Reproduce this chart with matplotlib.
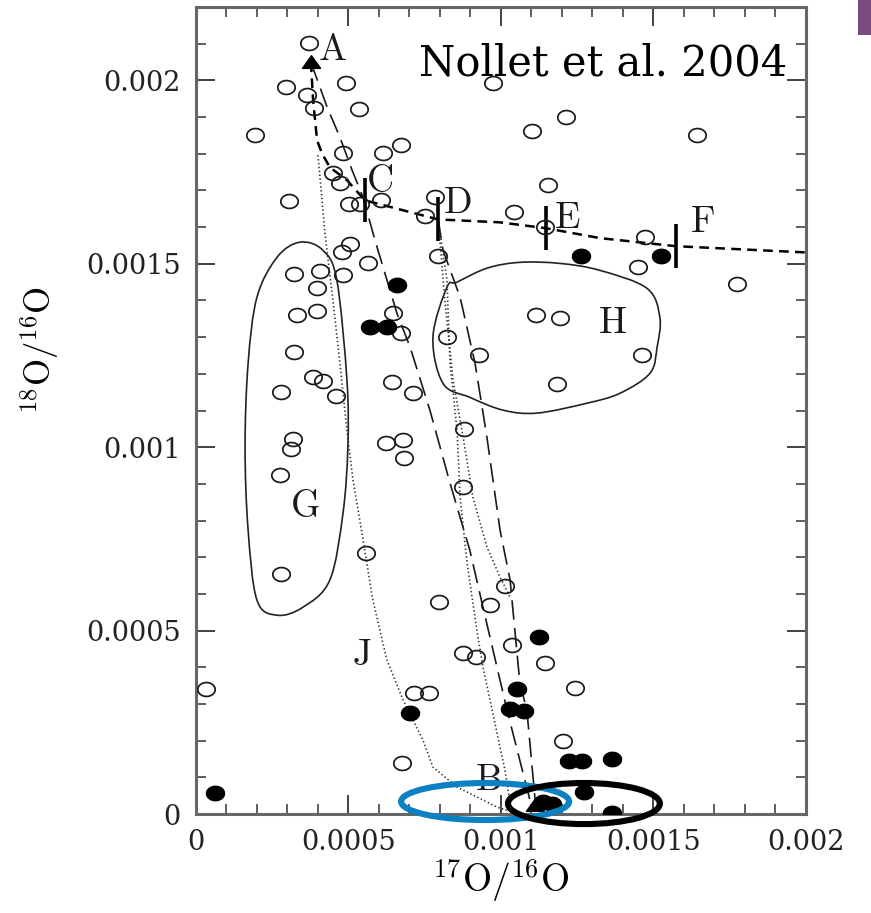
import numpy as np
import matplotlib
matplotlib.use("Agg")
import matplotlib.pyplot as plt
from matplotlib.path import Path
from matplotlib.patches import PathPatch, Ellipse, Rectangle
from matplotlib.ticker import MultipleLocator, FixedLocator

plt.rcParams["mathtext.fontset"] = "cm"
plt.rcParams["lines.scale_dashes"] = False

# ---- presolar oxide grains: open symbols ----
open_x = [0.000371, 0.000295, 0.000364, 0.000492, 0.000387, 0.000534, 0.000193, 0.000482,
          0.000613, 0.000672, 0.000449, 0.000472, 0.000305, 0.000502, 0.000538, 0.000607,
          0.000784, 0.000751, 0.001043, 0.000974, 0.001102, 0.001213, 0.001643, 0.001154,
          0.001144, 0.001472, 0.001449, 0.001774, 0.000505, 0.000479, 0.000794, 0.000564,
          0.000321, 0.000407, 0.000482, 0.000397, 0.000331, 0.000397, 0.000646, 0.000672,
          0.000823, 0.000928, 0.000321, 0.000384, 0.000416, 0.000459, 0.000279, 0.000643,
          0.000712, 0.000879, 0.000318, 0.000312, 0.000623, 0.000679, 0.000682, 0.000275,
          0.000876, 0.000557, 0.000279, 0.000797, 0.001013, 0.000964, 0.001115, 0.001194,
          0.001462, 0.001184, 0.000876, 0.000918, 0.001036, 0.000033, 0.000715, 0.000764,
          0.000675, 0.001144, 0.001243, 0.001203]
open_y = [0.002101, 0.001981, 0.001959, 0.001992, 0.001924, 0.001921, 0.001850, 0.001801,
          0.001801, 0.001823, 0.001747, 0.001720, 0.001670, 0.001662, 0.001662, 0.001673,
          0.001681, 0.001630, 0.001640, 0.001992, 0.001861, 0.001899, 0.001850, 0.001714,
          0.001600, 0.001572, 0.001491, 0.001444, 0.001553, 0.001531, 0.001521, 0.001501,
          0.001472, 0.001480, 0.001469, 0.001433, 0.001360, 0.001371, 0.001365, 0.001311,
          0.001300, 0.001251, 0.001259, 0.001191, 0.001180, 0.001139, 0.001150, 0.001177,
          0.001147, 0.001049, 0.001022, 0.000995, 0.001011, 0.001019, 0.000970, 0.000924,
          0.000891, 0.000711, 0.000654, 0.000578, 0.000621, 0.000570, 0.001360, 0.001352,
          0.001251, 0.001172, 0.000439, 0.000428, 0.000461, 0.000341, 0.000330, 0.000330,
          0.000139, 0.000411, 0.000343, 0.000199]

# ---- filled symbols ----
filled_x = [0.000062, 0.000702, 0.000659, 0.000571, 0.000626, 0.001125, 0.001053, 0.001030,
            0.001076, 0.001223, 0.001266, 0.001364, 0.001272, 0.001364, 0.001138, 0.001167,
            0.001262, 0.001525]
filled_y = [0.0000572, 0.000275, 0.001442, 0.001327, 0.001327, 0.000482, 0.000341, 0.000286,
            0.000281, 0.000144, 0.000144, 0.000150, 0.0000600, 0.0000027, 0.0000327, 0.0000272,
            0.001521, 0.001521]

# ---- reference compositions (triangles) ----
tri_x = [0.000377, 0.001112]
tri_y = [0.002049, 0.0000245]

# ---- mixing / processing trajectories ----
path_cf_x = [0.000377, 0.000384, 0.000397, 0.000413, 0.000439, 0.000495, 0.000554, 0.000794,
             0.000997, 0.001148, 0.001325, 0.001574, 0.002000]
path_cf_y = [0.002049, 0.001946, 0.001837, 0.001801, 0.001763, 0.001728, 0.001673, 0.001621,
             0.001613, 0.001597, 0.001570, 0.001548, 0.001531]
# indices on path_cf marking C, D, E, F
mark_idx = [6, 7, 9, 11]

path_ab_x = [0.000377, 0.000430, 0.000472, 0.000512, 0.000548, 0.000587, 0.000659, 0.000702,
             0.000767, 0.000833, 0.000898, 0.000941, 0.001020, 0.001095, 0.001112]
path_ab_y = [0.002049, 0.001927, 0.001845, 0.001755, 0.001681, 0.001564, 0.001365, 0.001273,
             0.001101, 0.000902, 0.000719, 0.000564, 0.000283, 0.0000382, 0.0000164]

path_db_x = [0.000794, 0.000810, 0.000866, 0.000915, 0.000954, 0.000997, 0.001030, 0.001062,
             0.001085, 0.001112, 0.001118]
path_db_y = [0.001621, 0.001537, 0.001409, 0.001229, 0.001027, 0.000774, 0.000638, 0.000357,
             0.000283, 0.0000382, 0.0000164]

path_j_x = [0.000400, 0.000423, 0.000449, 0.000472, 0.000495, 0.000515, 0.000548, 0.000580,
            0.000626, 0.000679, 0.000744, 0.000777, 0.000856, 0.000987, 0.001036]
path_j_y = [0.001796, 0.001583, 0.001401, 0.001229, 0.001046, 0.000910, 0.000747, 0.000583,
            0.000420, 0.000311, 0.000202, 0.000128, 0.0000736, 0.0000191, 0.0000055]

path_k1_x = [0.000794, 0.000810, 0.000823, 0.000833, 0.000856, 0.000866, 0.000889, 0.000921,
             0.000941, 0.000987, 0.001013, 0.001030, 0.001036]
path_k1_y = [0.001621, 0.001529, 0.001455, 0.001229, 0.001046, 0.000864, 0.000684, 0.000501,
             0.000401, 0.000221, 0.000120, 0.0000300, 0.0000109]

path_k2_x = [0.000794, 0.000816, 0.000843, 0.000876, 0.000908, 0.000954, 0.000997, 0.001030]
path_k2_y = [0.001621, 0.001401, 0.001183, 0.001027, 0.000864, 0.000728, 0.000646, 0.000591]

# ---- grain groups ----
region_g_x = [0.000341, 0.000416, 0.000462, 0.000495, 0.000498, 0.000482, 0.000439, 0.000351,
              0.000266, 0.000200, 0.000171, 0.000161, 0.000171, 0.000200, 0.000266]
region_g_y = [0.001559, 0.001537, 0.001455, 0.001183, 0.001000, 0.000820, 0.000638, 0.000564,
              0.000542, 0.000583, 0.000774, 0.001000, 0.001229, 0.001409, 0.001518]
region_h_x = [0.000777, 0.000823, 0.000856, 0.000954, 0.001062, 0.001194, 0.001325, 0.001479,
              0.001521, 0.001512, 0.001489, 0.001390, 0.001282, 0.001118, 0.001007, 0.000898,
              0.000810]
region_h_y = [0.001300, 0.001436, 0.001450, 0.001488, 0.001504, 0.001501, 0.001482, 0.001433,
              0.001354, 0.001273, 0.001202, 0.001147, 0.001120, 0.001093, 0.001101, 0.001136,
              0.001174]

letters = ["A", "B", "C", "D", "E", "F", "G", "H", "J"]
letter_x = [0.000449, 0.000957, 0.000603, 0.000856, 0.001217, 0.001659, 0.000357, 0.001364, 0.000544]
letter_y = [0.002082, 0.0000927, 0.001722, 0.001665, 0.001624, 0.001613, 0.000837, 0.001338, 0.000433]

ticks = [0, 0.0005, 0.001, 0.0015, 0.002]
tick_labels = ["0", "0.0005", "0.001", "0.0015", "0.002"]


def closed_smooth_path(xs, ys):
    """Closed Catmull-Rom outline expressed as cubic Bezier segments."""
    p = np.column_stack([xs, ys])
    n = len(p)
    verts = [p[0]]
    codes = [Path.MOVETO]
    for i in range(n):
        p0, p1, p2, p3 = p[i - 1], p[i], p[(i + 1) % n], p[(i + 2) % n]
        verts += [p1 + (p2 - p0) / 6.0, p2 - (p3 - p1) / 6.0, p2]
        codes += [Path.CURVE4] * 3
    return Path(verts, codes)


t = np.linspace(0, 2 * np.pi, 64)
oval = Path(np.column_stack([1.25 * np.cos(t), np.sin(t)]), closed=True)
tri = Path([(-1, -0.65), (1, -0.65), (0, 0.75), (-1, -0.65)], closed=True)

fig = plt.figure(figsize=(8.71, 9.13), dpi=100)
ax = fig.add_axes([0.2250, 0.1084, 0.7003, 0.8839])
ax.set_xlim(0, 0.002)
ax.set_ylim(0, 0.0022)

# trajectories
ax.plot(path_cf_x, path_cf_y, color="black", lw=1.8, ls=(0, (7, 4.5)), zorder=3)
ax.plot(path_ab_x, path_ab_y, color="#1a1a1a", lw=1.2, ls=(0, (14, 6)), zorder=3)
ax.plot(path_db_x, path_db_y, color="#1a1a1a", lw=1.2, ls=(0, (14, 6)), zorder=3)
for xs, ys in [(path_j_x, path_j_y), (path_k1_x, path_k1_y), (path_k2_x, path_k2_y)]:
    ax.plot(xs, ys, color="#333333", lw=1.2, ls=(0, (1, 1.8)), zorder=3)
ax.plot([path_cf_x[i] for i in mark_idx], [path_cf_y[i] for i in mark_idx],
        ls="none", marker="|", ms=32, mew=2.6, color="black", zorder=4)

for xs, ys in [(region_g_x, region_g_y), (region_h_x, region_h_y)]:
    ax.add_patch(PathPatch(closed_smooth_path(xs, ys), fill=False, lw=1.2,
                           ec="#222222", zorder=2))

ax.plot(open_x, open_y, ls="none", marker=oval, ms=12.5, mfc="none", mec="#1a1a1a",
        mew=1.25, zorder=5)
ax.plot(filled_x, filled_y, ls="none", marker=oval, ms=13, mfc="black", mec="black",
        mew=1.0, zorder=5)
ax.plot(tri_x, tri_y, ls="none", marker=tri, ms=13, mfc="black", mec="black", zorder=6)

for s, x, y in zip(letters, letter_x, letter_y):
    ax.text(x, y, r"$\mathrm{%s}$" % s, fontsize=27, ha="center", va="center",
            color="#1a1a1a", zorder=7)

ax.text(0.001335, 0.002045, "Nollet et al. 2004", fontsize=30, family="DejaVu Serif",
        ha="center", va="center", color="black", zorder=8)

# highlight rings around the low-18O grains
ax.add_patch(Ellipse((0.000948, 0.0000341), 0.000551, 0.000101, fill=False,
                     ec="#0b80c3", lw=4.4, clip_on=False, zorder=9))
ax.add_patch(Ellipse((0.001272, 0.0000286), 0.000498, 0.000112, fill=False,
                     ec="black", lw=4.4, clip_on=False, zorder=10))

# axes styling
ax.xaxis.set_major_locator(FixedLocator(ticks))
ax.yaxis.set_major_locator(FixedLocator(ticks))
ax.set_xticklabels(tick_labels)
ax.set_yticklabels(tick_labels)
ax.xaxis.set_minor_locator(MultipleLocator(0.0001))
ax.yaxis.set_minor_locator(MultipleLocator(0.0001))
ax.tick_params(which="both", direction="in", top=True, right=True, color="#333333")
ax.tick_params(which="major", length=14, width=1.3, labelsize=19.5, pad=11,
               labelcolor="#222222")
ax.tick_params(which="minor", length=7, width=1.1)
for lab in ax.get_xticklabels() + ax.get_yticklabels():
    lab.set_family("DejaVu Serif")
for sp in ax.spines.values():
    sp.set_linewidth(2.2)
    sp.set_color("#666666")

ax.set_xlabel(r"${}^{17}\mathrm{O}/{}^{16}\mathrm{O}$", fontsize=27)
ax.set_ylabel(r"${}^{18}\mathrm{O}/{}^{16}\mathrm{O}$", fontsize=25)
ax.xaxis.set_label_coords(0.5, -0.054)
ax.yaxis.set_label_coords(-0.222, 0.575)

fig.patches.append(Rectangle((0.985, 0.9617), 0.015, 0.0383, transform=fig.transFigure,
                             facecolor="#7b4a7e", edgecolor="none"))

fig.savefig("out.png", dpi=100, facecolor="white")
